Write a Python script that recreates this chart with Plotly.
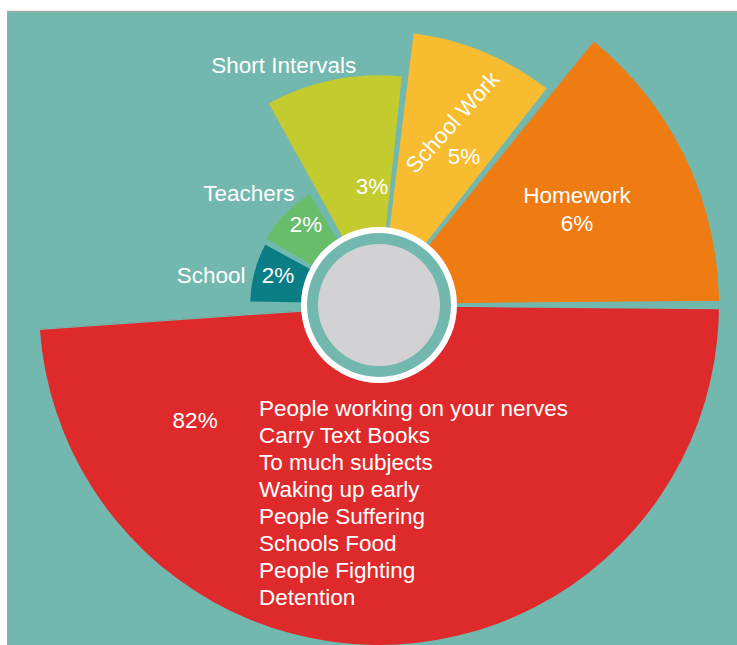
import math
import plotly.graph_objects as go

# ---- data -------------------------------------------------------------
categories = ["Homework", "School Work", "Short Intervals", "Teachers", "School", "Other"]
percent_labels = ["6%", "5%", "3%", "2%", "2%", "82%"]
# wedge extents on the rose: outer radius and start/end angle (degrees, counter-clockwise from east)
outer_r = [343, 275, 231, 132, 130, 344]
theta_start = [0.5, 52.0, 84.0, 121.5, 151.5, 184.0]
theta_end = [51.0, 83.0, 119.0, 150.0, 179.0, 359.5]
reasons = [
    "People working on your nerves",
    "Carry Text Books",
    "To much subjects",
    "Waking up early",
    "People Suffering",
    "Schools Food",
    "People Fighting",
    "Detention",
]

# ---- styling ----------------------------------------------------------
W, H = 737, 645
CX, CY = 379, 305          # centre of the rose in page pixels
TEAL = "#72b8ae"
colors = ["#ef7b13", "#f7bc2f", "#c3cb2f", "#68bd6b", "#0b7d84", "#df2a2c"]
FONT = "Liberation Sans, Arial, sans-serif"
FS = 22.5
BASE = 70

# The two long wedges (Homework and the 82% wedge) live on a sector-shaped
# subplot that spans -176..51 deg, so its radius can exceed the distance from
# the centre to the top of the page. Everything else sits on a full circle.
R_BIG = 340
SECTOR = [-176, 51]
bx0 = math.cos(math.radians(SECTOR[0]))
by1 = math.sin(math.radians(SECTOR[1]))
big_dom_x = [(CX + R_BIG * bx0) / W, (CX + R_BIG) / W]
big_dom_y = [(H - CY - R_BIG) / H, (H - CY + R_BIG * by1) / H]

R_SMALL = 305
small_dom_x = [(CX - R_SMALL) / W, (CX + R_SMALL) / W]
small_dom_y = [(H - CY - R_SMALL) / H, (H - CY + R_SMALL) / H]

big = [0, 5]
small = [1, 2, 3, 4]

fig = go.Figure()


def wedges(idx, subplot):
    fig.add_trace(go.Barpolar(
        r=[outer_r[i] - BASE for i in idx],
        base=[BASE] * len(idx),
        theta=[(theta_start[i] + theta_end[i]) / 2 for i in idx],
        width=[theta_end[i] - theta_start[i] for i in idx],
        marker=dict(color=[colors[i] for i in idx], line=dict(color=TEAL, width=2.5)),
        hoverinfo="skip", subplot=subplot,
    ))


wedges(big, "polar")
wedges(small, "polar2")

# hub: white ring, teal ring, grey disc
for base, thick, col in [(71, 7, "#ffffff"), (61, 11, TEAL), (0, 61, "#d2d2d4")]:
    fig.add_trace(go.Barpolar(
        r=[thick], base=[base], theta=[180], width=[360],
        marker=dict(color=col, line=dict(width=0)),
        hoverinfo="skip", subplot="polar2",
    ))

# labels placed on the rose (r in px units, theta in degrees)
lab_text = ["Homework", "6%", "5%", "3%", "Short Intervals", "Teachers", "2%", "School", "2%", "82%"]
lab_r = [225.5, 213.6, 169.8, 117.2, 256.3, 170.3, 107.6, 170.3, 104.8, 218.0]
lab_t = [28.6, 22.0, 60.0, 93.4, 111.8, 139.8, 132.7, 170.5, 164.5, 212.5]
fig.add_trace(go.Scatterpolar(
    r=lab_r, theta=lab_t, mode="text", text=lab_text,
    textposition="middle center",
    textfont=dict(family=FONT, size=FS, color="white"),
    cliponaxis=False, hoverinfo="skip", subplot="polar2",
))

annotations = [dict(
    text="School Work", x=452.5 / W, y=1 - 122.5 / H, xref="paper", yref="paper",
    xanchor="center", yanchor="middle", showarrow=False, textangle=-48,
    font=dict(family=FONT, size=FS, color="white"),
)]
for i, line in enumerate(reasons):
    annotations.append(dict(
        text=line, x=257 / W, y=1 - (408.5 + 27.05 * i) / H, xref="paper", yref="paper",
        xanchor="left", yanchor="middle", showarrow=False,
        font=dict(family=FONT, size=FS, color="white"),
    ))

shapes = [
    dict(type="rect", xref="paper", yref="paper", x0=7 / W, x1=1, y0=0, y1=1 - 11 / H,
         fillcolor=TEAL, line=dict(width=0), layer="below"),
    dict(type="line", xref="paper", yref="paper", x0=7 / W, x1=1, y0=1 - 11.5 / H, y1=1 - 11.5 / H,
         line=dict(color="#a3a9a8", width=1.5), layer="below"),
]

hidden_axes = dict(
    bgcolor="rgba(0,0,0,0)",
    angularaxis=dict(visible=False, rotation=0, direction="counterclockwise"),
    bargap=0,
)

fig.update_layout(
    width=W, height=H, margin=dict(l=0, r=0, t=0, b=0),
    paper_bgcolor="white", plot_bgcolor="rgba(0,0,0,0)",
    showlegend=False,
    polar=dict(domain=dict(x=big_dom_x, y=big_dom_y), sector=SECTOR,
               radialaxis=dict(range=[0, R_BIG], visible=False), **hidden_axes),
    polar2=dict(domain=dict(x=small_dom_x, y=small_dom_y),
                radialaxis=dict(range=[0, R_SMALL], visible=False), **hidden_axes),
    annotations=annotations,
    shapes=shapes,
)

fig.write_html("out.html")
